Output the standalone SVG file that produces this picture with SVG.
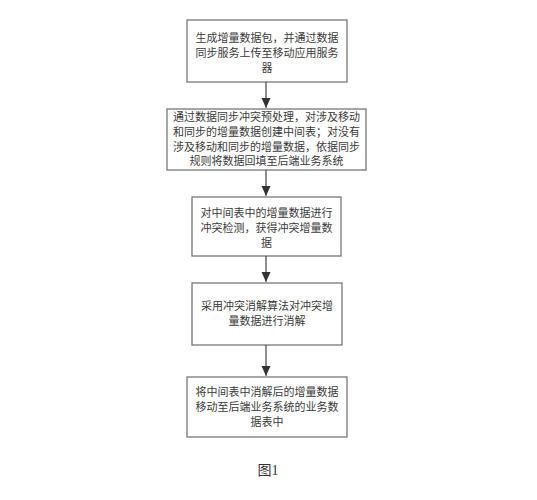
<svg xmlns="http://www.w3.org/2000/svg" width="537" height="500" viewBox="0 0 537 500">
<defs>
<marker id="ah" markerWidth="9" markerHeight="10" refX="10" refY="5" orient="auto" markerUnits="userSpaceOnUse">
<path d="M0,0.5 L10,5 L0,9.5 Z" fill="#333"/>
</marker>
<style>
.box{fill:#fff;stroke:#777;stroke-width:1.3}
.t{font-family:"Liberation Serif","Noto Sans CJK SC",serif;font-size:11px;fill:#3a3a3a;text-anchor:middle}
.c{stroke:#444;stroke-width:1.2;fill:none;marker-end:url(#ah)}
</style>
</defs>
<rect width="537" height="500" fill="#fff"/>
<g id="n1">
<rect class="box" x="187" y="20" width="160" height="62"/>
<text class="t" x="267" y="42">生成增量数据包，并通过数据</text>
<text class="t" x="267" y="57">同步服务上传至移动应用服务</text>
<text class="t" x="267" y="72">器</text>
</g>
<g id="n2">
<rect class="box" x="167" y="109" width="199" height="61"/>
<text class="t" x="266.5" y="121">通过数据同步冲突预处理，对涉及移动</text>
<text class="t" x="266.5" y="136">和同步的增量数据创建中间表；对没有</text>
<text class="t" x="266.5" y="151">涉及移动和同步的增量数据，依据同步</text>
<text class="t" x="266.5" y="165">规则将数据回填至后端业务系统</text>
</g>
<g id="n3">
<rect class="box" x="192" y="197" width="149" height="59"/>
<text class="t" x="266.5" y="217">对中间表中的增量数据进行</text>
<text class="t" x="266.5" y="232">冲突检测，获得冲突增量数</text>
<text class="t" x="266.5" y="247">据</text>
</g>
<g id="n4">
<rect class="box" x="192" y="283" width="150" height="62"/>
<text class="t" x="267" y="310">采用冲突消解算法对冲突增</text>
<text class="t" x="267" y="325">量数据进行消解</text>
</g>
<g id="n5">
<rect class="box" x="187" y="377" width="160" height="60"/>
<text class="t" x="267" y="396">将中间表中消解后的增量数据</text>
<text class="t" x="267" y="411">移动至后端业务系统的业务数</text>
<text class="t" x="267" y="426">据表中</text>
</g>
<g id="connectors">
<line class="c" x1="266" y1="82" x2="266" y2="108"/>
<line class="c" x1="266" y1="170" x2="266" y2="196"/>
<line class="c" x1="266" y1="256" x2="266" y2="282"/>
<line class="c" x1="266" y1="345" x2="266" y2="376"/>
</g>
<text x="268" y="475" style="font-family:'Liberation Serif','Noto Sans CJK SC',serif;font-size:14px;fill:#333;text-anchor:middle">图1</text>
</svg>
